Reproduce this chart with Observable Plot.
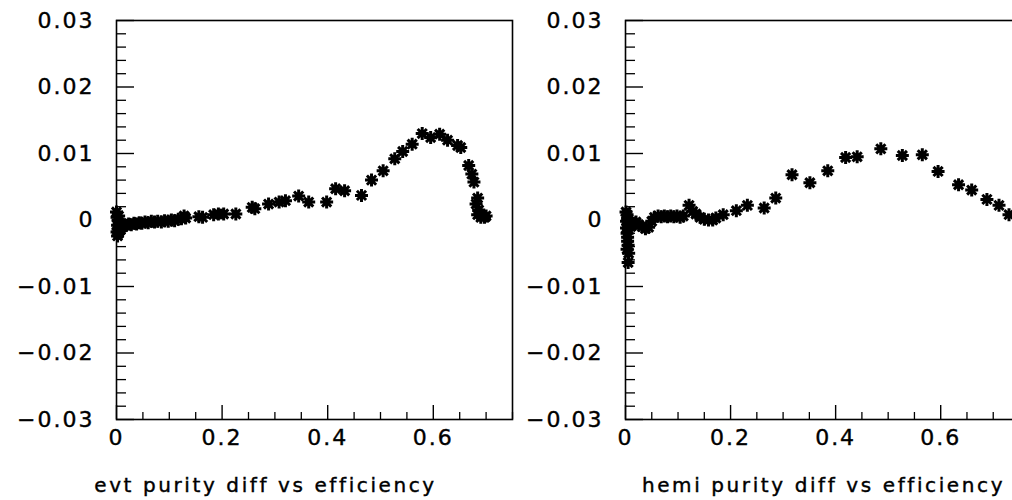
<!DOCTYPE html>
<html><head><meta charset="utf-8">
<script src="https://cdn.jsdelivr.net/npm/d3@7"></script>
<script src="https://cdn.jsdelivr.net/npm/@observablehq/plot@0.6"></script>
<style>
body{margin:0;background:#fff}
#wrap{position:relative;width:1012px;height:500px;overflow:hidden;background:#fff}
#wrap svg{position:absolute;top:0}
g[aria-label$="tick label"] text{letter-spacing:2px;stroke:#000;stroke-width:0.4px}
g[aria-label="text"] text{letter-spacing:2.6px;stroke:#000;stroke-width:0.4px}
</style></head><body><div id="wrap"></div>
<script>
// ---- data ----
const evtX = [0.000,0.001,0.001,0.002,0.002,0.003,0.003,0.004,0.004,0.005,0.006,0.007,0.008,0.010,0.012,0.015,0.019,0.023,0.028,0.033,0.038,0.043,0.048,0.054,0.060,0.066,0.072,0.078,0.085,0.091,0.098,0.104,0.110,0.117,0.123,0.128,0.131,0.156,0.163,0.184,0.193,0.203,0.226,0.257,0.262,0.288,0.308,0.320,0.345,0.364,0.398,0.415,0.432,0.464,0.483,0.505,0.527,0.542,0.560,0.579,0.595,0.612,0.627,0.646,0.652,0.667,0.673,0.677,0.684,0.681,0.686,0.684,0.690,0.697,0.700];
const evtY = [0.0012,-0.0018,0.0004,-0.0024,-0.0008,0.0000,-0.0014,-0.0020,0.0006,-0.0010,-0.0016,-0.0006,-0.0012,-0.0008,-0.0010,-0.0007,-0.0008,-0.0006,-0.0007,-0.0005,-0.0006,-0.0004,-0.0005,-0.0003,-0.0004,-0.0002,-0.0003,-0.0002,-0.0003,-0.0001,-0.0002,0.0000,-0.0001,0.0001,0.0002,0.0006,0.0003,0.0005,0.0004,0.0008,0.0009,0.0009,0.0009,0.0019,0.0017,0.0024,0.0027,0.0029,0.0036,0.0027,0.0027,0.0047,0.0044,0.0037,0.0060,0.0074,0.0092,0.0103,0.0114,0.0130,0.0124,0.0129,0.0120,0.0112,0.0109,0.0082,0.0069,0.0057,0.0033,0.0024,0.0015,0.0008,0.0004,0.0004,0.0006];
const hemiX = [0.001,0.002,0.003,0.002,0.004,0.005,0.003,0.004,0.006,0.008,0.010,0.004,0.005,0.003,0.006,0.005,0.012,0.016,0.020,0.026,0.032,0.038,0.044,0.050,0.055,0.062,0.068,0.074,0.080,0.086,0.092,0.098,0.104,0.110,0.121,0.128,0.134,0.142,0.150,0.158,0.166,0.172,0.186,0.211,0.232,0.264,0.286,0.317,0.351,0.385,0.419,0.441,0.486,0.527,0.565,0.595,0.634,0.659,0.688,0.711,0.730];
const hemiY = [0.0012,-0.0002,0.0008,-0.0012,0.0002,-0.0006,-0.0020,-0.0026,-0.0010,-0.0004,-0.0010,-0.0032,-0.0038,-0.0044,-0.0050,-0.0064,-0.0002,-0.0006,-0.0003,-0.0008,-0.0010,-0.0013,-0.0011,-0.0002,0.0004,0.0006,0.0005,0.0006,0.0005,0.0006,0.0005,0.0006,0.0004,0.0006,0.0022,0.0013,0.0009,0.0004,0.0001,0.0000,0.0000,0.0003,0.0008,0.0014,0.0022,0.0018,0.0033,0.0068,0.0056,0.0074,0.0094,0.0095,0.0107,0.0097,0.0098,0.0073,0.0053,0.0045,0.0031,0.0022,0.0008];
const titles = ["evt purity diff vs efficiency", "hemi purity diff vs efficiency"];
const yTicks = [-0.03,-0.02,-0.01,0,0.01,0.02,0.03];
const yTickLabels = ["\u22120.03","\u22120.02","\u22120.01","0","0.01","0.02","0.03"];
const xTicks = [0,0.2,0.4,0.6];
const xTickLabels = ["0","0.2","0.4","0.6"];
const xDomain = [0, 0.75];
const yDomain = [-0.03, 0.03];

// minor ticks
const yMinor = d3.range(-15, 16).map(k => k * 0.002).filter((v, i) => (i % 5) !== 0);
const xMinor = d3.range(0, 16).map(k => k * 0.05).filter((v, i) => (i % 4) !== 0);

// 8-armed asterisk marker
const star8 = {
  draw(ctx, size) {
    const r = Math.sqrt(size / Math.PI);
    const d = r * Math.SQRT1_2;
    ctx.moveTo(-r, 0); ctx.lineTo(r, 0);
    ctx.moveTo(0, -r); ctx.lineTo(0, r);
    ctx.moveTo(-d, -d); ctx.lineTo(d, d);
    ctx.moveTo(-d, d); ctx.lineTo(d, -d);
  }
};

function panel(xs, ys, title, width, marginLeft, marginRight, titleDx) {
  const data = xs.map((x, i) => ({x, y: ys[i]}));
  const mt = 20, mb = 81, H = 500;
  const plotW = width - marginLeft - marginRight;
  const plotH = H - mt - mb;
  return Plot.plot({
    width, height: H, marginTop: mt, marginBottom: mb, marginLeft, marginRight,
    x: {domain: xDomain, label: null},
    y: {domain: yDomain, label: null},
    style: {fontFamily: "'DejaVu Sans', sans-serif", fontSize: "22px", color: "black", background: "white", overflow: "visible"},
    marks: [
      Plot.tickY(yTicks, {y: d => d, insetRight: plotW - 18, stroke: "black", strokeWidth: 1.4}),
      Plot.tickY(yMinor, {y: d => d, insetRight: plotW - 10, stroke: "black", strokeWidth: 1.3}),
      Plot.tickX(xTicks, {x: d => d, insetTop: plotH - 14, stroke: "black", strokeWidth: 1.4}),
      Plot.tickX(xMinor, {x: d => d, insetTop: plotH - 7, stroke: "black", strokeWidth: 1.3}),
      Plot.axisY(yTicks, {tickSize: 0, tickPadding: 22, label: null, fontSize: 22,
        tickFormat: d => yTickLabels[yTicks.indexOf(d)]}),
      Plot.axisX(xTicks, {tickSize: 0, tickPadding: 10, label: null, fontSize: 22,
        tickFormat: d => xTickLabels[xTicks.indexOf(d)]}),
      Plot.dot(data, {x: "x", y: "y", symbol: star8, r: 6.5, stroke: "black", strokeWidth: 3, fill: "none"}),
      Plot.frame({stroke: "black", strokeWidth: 1.6}),
      Plot.text([title], {frameAnchor: "bottom", dy: 72, dx: titleDx, fontSize: 20, fill: "black"})
    ]
  });
}

const wrap = document.getElementById("wrap");
const left = panel(evtX, evtY, titles[0], 520, 116, 8, -49);
left.style.left = "0px";
const right = panel(hemiX, hemiY, titles[1], 520, 105, 21, 1);
right.style.left = "520px";
wrap.appendChild(left);
wrap.appendChild(right);
</script>
</body></html>
